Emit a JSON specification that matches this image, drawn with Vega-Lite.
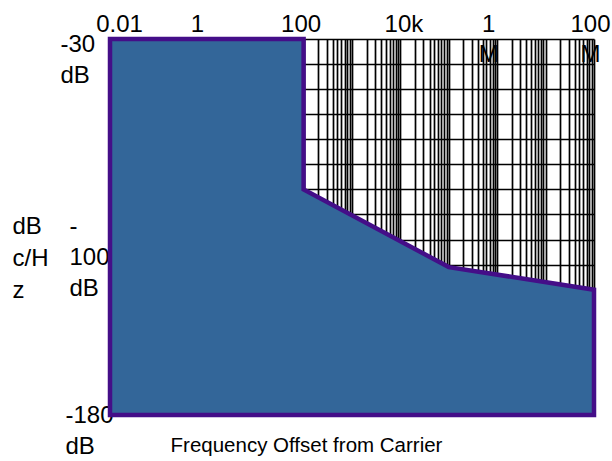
{
  "$schema": "https://vega.github.io/schema/vega-lite/v6.json",
  "width": 484,
  "height": 376,
  "autosize": {"type": "none"},
  "padding": {"left": 110, "top": 39, "right": 18, "bottom": 46},
  "background": "white",
  "config": {"view": {"stroke": null}, "font": "Liberation Sans"},
  "data": {
    "values": [
      {"f": 0.01, "db": -30},
      {"f": 100, "db": -30},
      {"f": 100, "db": -90},
      {"f": 100000, "db": -121},
      {"f": 100000000, "db": -130}
    ]
  },
  "mark": {
    "type": "area",
    "fill": "#336699",
    "fillOpacity": 1,
    "stroke": "#440e88",
    "strokeWidth": 4.5,
    "strokeJoin": "miter"
  },
  "encoding": {
    "x": {
      "field": "f",
      "type": "quantitative",
      "scale": {"type": "log", "domain": [0.01, 100000000], "nice": false},
      "axis": {
        "orient": "top",
        "values": [0.01, 1,
          100, 200, 300, 400, 500, 600, 700, 800, 900,
          1000, 2000, 3000, 4000, 5000, 6000, 7000, 8000, 9000,
          10000, 20000, 30000, 40000, 50000, 60000, 70000, 80000, 90000,
          100000, 200000, 300000, 400000, 500000, 600000, 700000, 800000, 900000,
          1000000, 2000000, 3000000, 4000000, 5000000, 6000000, 7000000, 8000000, 9000000,
          10000000, 20000000, 30000000, 40000000, 50000000, 60000000, 70000000, 80000000, 90000000,
          100000000],
        "labelExpr": "datum.value == 0.01 ? '0.01' : datum.value == 1 ? '1' : datum.value == 100 ? '100' : datum.value == 10000 ? '10k' : datum.value == 1000000 ? ['1', 'M'] : datum.value == 100000000 ? ['100', 'M'] : ''",
        "grid": true,
        "gridColor": "black",
        "gridWidth": 1.7,
        "gridOpacity": 1,
        "domain": false,
        "ticks": false,
        "tickSize": 0,
        "labelFont": "Liberation Sans",
        "labelFontSize": 24,
        "labelColor": "black",
        "labelAlign": "center",
        "labelBaseline": "alphabetic",
        "labelPadding": 8,
        "labelLineHeight": 30,
        "labelFlush": false,
        "labelOverlap": false,
        "labelBound": false,
        "labelOffset": {
          "condition": [
            {"test": "datum.value == 0.01", "value": 9},
            {"test": "datum.value == 1", "value": -10},
            {"test": "datum.value == 100", "value": -3},
            {"test": "datum.value == 10000", "value": 3},
            {"test": "datum.value == 1000000", "value": -9},
            {"test": "datum.value == 100000000", "value": -4}
          ],
          "value": 0
        },
        "title": "Frequency Offset from Carrier",
        "titleFont": "Liberation Sans",
        "titleFontSize": 20.5,
        "titleFontWeight": "normal",
        "titleColor": "black",
        "titleAngle": 0,
        "titleAlign": "center",
        "titleBaseline": "alphabetic",
        "titleX": 196,
        "titleY": 412,
        "zindex": 0
      }
    },
    "y": {
      "field": "db",
      "type": "quantitative",
      "scale": {"domain": [-180, -30], "nice": false, "zero": false},
      "axis": {
        "orient": "left",
        "values": [-180, -170, -160, -150, -140, -130, -120, -110, -100, -90, -80, -70, -60, -50, -40, -30],
        "labelExpr": "datum.value == -30 ? ['-30', 'dB'] : datum.value == -100 ? ['-', '100', 'dB'] : datum.value == -180 ? ['-180', 'dB'] : ''",
        "grid": true,
        "gridColor": "black",
        "gridWidth": 1.7,
        "gridOpacity": 1,
        "domain": false,
        "ticks": false,
        "tickSize": 0,
        "labelFont": "Liberation Sans",
        "labelFontSize": 24,
        "labelColor": "black",
        "labelAlign": "left",
        "labelBaseline": "alphabetic",
        "labelLineHeight": 31,
        "labelFlush": false,
        "labelOverlap": false,
        "labelBound": false,
        "labelPadding": {
          "condition": [
            {"test": "datum.value == -30", "value": 50},
            {"test": "datum.value == -100", "value": 41}
          ],
          "value": 45
        },
        "labelOffset": {
          "condition": [
            {"test": "datum.value == -30", "value": 12},
            {"test": "datum.value == -100", "value": 19}
          ],
          "value": 7
        },
        "title": ["dB", "c/H", "z"],
        "titleFont": "Liberation Sans",
        "titleFontSize": 24,
        "titleFontWeight": "normal",
        "titleColor": "black",
        "titleAngle": 0,
        "titleAlign": "left",
        "titleBaseline": "alphabetic",
        "titleLineHeight": 32,
        "titleX": -98,
        "titleY": 194,
        "zindex": 0
      }
    },
    "y2": {"datum": -180}
  }
}
